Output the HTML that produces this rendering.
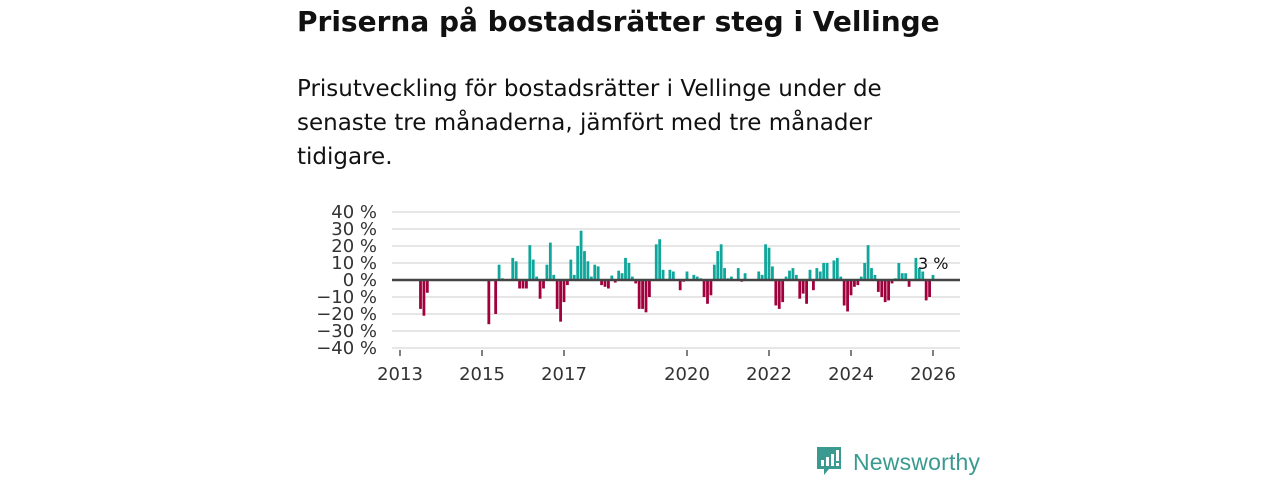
<!DOCTYPE html>
<html><head><meta charset="utf-8"><style>
body{margin:0;background:#fff;width:1280px;height:480px;overflow:hidden;font-family:"DejaVu Sans","Liberation Sans",sans-serif;color:#111}
#title{position:absolute;left:297px;top:5px;font-size:28px;font-weight:bold;margin:0;letter-spacing:0}
#sub{position:absolute;left:297px;top:72px;font-size:23px;line-height:34px;width:640px;margin:0}
svg{position:absolute;left:0;top:0}
#logo{position:absolute;left:815px;top:445px;display:flex;align-items:center}
</style></head><body>
<h1 id="title">Priserna på bostadsrätter steg i Vellinge</h1>
<p id="sub">Prisutveckling för bostadsrätter i Vellinge under de senaste tre månaderna, jämfört med tre månader tidigare.</p>
<svg id="chart" width="1280" height="480"></svg>
<div id="logo">
<svg width="30" height="34" style="position:static"><path d="M2 2h24v22h-12l-5 6v-6h-7z" fill="#3a9a8f"/><rect x="6" y="15" width="3" height="6" fill="#fff"/><rect x="11" y="12" width="3" height="9" fill="#fff"/><rect x="16" y="9" width="3" height="12" fill="#fff"/><rect x="21" y="5" width="3" height="11" fill="#fff"/><rect x="21" y="18" width="3" height="3" fill="#fff"/></svg>
<span style="font-family:'Liberation Sans',sans-serif;font-size:23px;color:#3a9a8f;margin-left:8px;letter-spacing:0.2px">Newsworthy</span>
</div>
<script>
const months=[6,7,8,26,28,29,30,33,34,35,36,37,38,39,40,41,42,43,44,45,46,47,48,49,50,51,52,53,54,55,56,57,58,59,60,61,62,63,64,65,66,67,68,69,70,71,72,73,75,76,77,79,80,82,83,84,86,87,88,89,90,91,92,93,94,95,96,97,98,99,100,101,103,105,106,107,108,109,110,111,112,113,114,115,116,117,118,119,120,121,122,123,124,125,127,128,129,130,131,132,133,134,135,136,137,138,139,140,141,142,143,144,145,146,147,148,149,151,152,153,154,155,156];
const values=[-17,-21,-7.5,-26,-20,9,1,13,11,-5,-5,-5,20.5,12,2,-11,-5,9,22,3,-17,-24.5,-13,-3,12,3,20,29,17,11,2,9,8,-3,-4,-5,2.6,-1.5,5.5,4,13,10,2,-2,-17,-17,-19,-10,21,24,6,6,5,-6,-1,5,3,2,1,-10,-14,-9,9,17,21,7,1,2,0.5,7,-1,4,0.5,5,3,21,19,8,-15,-17,-13,2,5.5,7,3,-11,-8,-14,6,-6,7,5,10,10,11.5,13,2,-15,-18.5,-9,-4,-3,2,10,20.5,7,3,-7,-10,-13,-12,-2,1,10,4,4,-4,13,7,5,-12,-10,3];
const yTicks=[40,30,20,10,0,-10,-20,-30,-40];
const xTickYears=[2013,2015,2017,2020,2022,2024,2026];
const lastLabel="3 %";
const NS='http://www.w3.org/2000/svg',svg=document.getElementById('chart');
const x=m=>400+m*41/12, y=v=>280-v*1.7;
function mk(t,a){const e=document.createElementNS(NS,t);for(const k in a)e.setAttribute(k,a[k]);svg.appendChild(e);return e;}
yTicks.forEach(v=>{
 if(v!==0){const g=mk('line',{x1:392,x2:960,y1:y(v),y2:y(v),stroke:'#dedede','stroke-width':1.5});
 
 }
 const t=mk('text',{x:377,y:y(v)+6,'text-anchor':'end','font-size':18,fill:'#333'});
 t.textContent=(v<0?'\u2212'+(-v):v)+' %';
 
 
});
xTickYears.forEach(yr=>{
 const xx=x((yr-2013)*12);
 const l=mk('line',{x1:xx,x2:xx,y1:350,y2:356,stroke:'#555','stroke-width':1.5});
 
 
 const t=mk('text',{x:xx,y:380,'text-anchor':'middle','font-size':18,fill:'#333'});
 t.textContent=yr;
 
 
});
months.forEach((m,i)=>{
 const v=values[i],xx=x(m)-1.4,y0=y(0),y1=y(v);
 const r=mk('rect',{x:xx,width:2.8,y:Math.min(y0,y1),height:Math.abs(y1-y0),fill:v>=0?'#10a69b':'#a0003c'});
 
 
});
const z=mk('line',{x1:392,x2:960,y1:y(0),y2:y(0),stroke:'#444','stroke-width':2.5});


const lm=months[months.length-1];
const lt=mk('text',{x:x(lm)-15,y:y(values[values.length-1]+7)+6,'font-size':16,fill:'#111'});
lt.textContent=lastLabel;


</script>
</body></html>
